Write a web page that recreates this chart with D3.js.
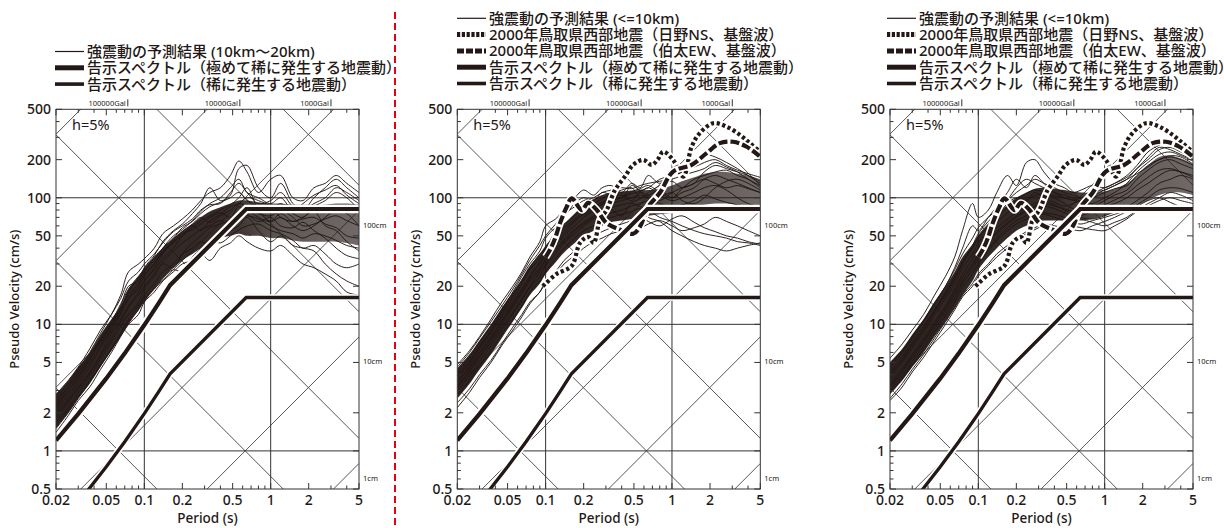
<!DOCTYPE html>
<html>
<head>
<meta charset="utf-8">
<script src="https://cdn.jsdelivr.net/npm/d3@7"></script>
<style>
  body { margin: 0; background: #fff; }
  text { font-family: "Noto Sans", "Noto Sans CJK JP", sans-serif; fill: #231815; }
</style>
</head>
<body>
<script>
// ---- data ----------------------------------------------------------------
// periods (s) used for all simulated spectra
var periods = [0.02, 0.025, 0.03, 0.037, 0.045, 0.055, 0.065, 0.075, 0.09, 0.1, 0.12, 0.14, 0.17, 0.2, 0.24,
  0.28, 0.33, 0.4, 0.48, 0.56, 0.65, 0.8, 1, 1.2, 1.5, 1.8, 2.2, 2.7, 3.3, 4, 5];

// panel 1 : 10km - 20km, dense core of the bundle and single traces (cm/s)
var farLow  = [1.5, 2.0, 2.6, 3.4, 4.6, 6.2, 8, 10, 13, 15, 19, 23, 28, 32, 36, 40, 44, 48, 50, 52, 50, 50, 48, 48, 46, 45, 45, 45, 45, 44, 42];
var farHigh = [2.8, 3.6, 4.6, 6, 8.3, 11, 14, 19, 24, 28, 34, 40, 48, 55, 62, 70, 78, 84, 90, 95, 95, 92, 90, 90, 88, 88, 88, 88, 90, 90, 88];
var farCurves = [
  [2.6, 3.4, 4.4, 6.0, 8.5, 12, 17, 26, 30, 33, 40, 52, 60, 68, 80, 95, 110, 120, 150, 195, 160, 110, 140, 150, 100, 95, 120, 130, 150, 130, 110],
  [2.2, 3.0, 3.8, 5.2, 7.5, 10, 14, 20, 22, 28, 35, 45, 55, 62, 75, 90, 120, 95, 105, 170, 180, 120, 100, 130, 90, 80, 100, 120, 140, 120, 100],
  [1.8, 2.4, 3.2, 4.2, 5.8, 8.5, 11, 14, 18, 22, 27, 33, 40, 50, 58, 66, 72, 80, 88, 100, 120, 80, 65, 70, 60, 55, 60, 70, 80, 75, 60],
  [1.6, 2.1, 2.7, 3.6, 4.8, 6.5, 8.5, 11, 14, 17, 21, 26, 30, 36, 40, 45, 42, 50, 55, 60, 70, 55, 45, 50, 42, 40, 38, 30, 25, 22, 20],
  [2.0, 2.6, 3.4, 4.6, 6.5, 9, 12, 16, 20, 24, 30, 38, 44, 52, 56, 62, 70, 76, 70, 85, 75, 65, 70, 60, 58, 64, 55, 48, 40, 35, 33],
  [2.4, 3.2, 4.2, 5.6, 7.5, 10, 13, 18, 23, 26, 34, 40, 48, 58, 65, 75, 85, 92, 100, 110, 95, 85, 80, 90, 75, 70, 85, 95, 110, 100, 80],
  [1.4, 1.9, 2.5, 3.2, 4.4, 6, 8, 10, 12, 15, 18, 22, 26, 30, 32, 36, 32, 40, 44, 50, 45, 40, 38, 42, 35, 30, 28, 25, 22, 18, 17],
  [2.8, 3.6, 4.6, 6.4, 9, 12, 16, 22, 26, 30, 36, 44, 54, 60, 68, 80, 88, 90, 110, 130, 110, 90, 95, 110, 85, 80, 90, 100, 120, 110, 95],
  [1.7, 2.2, 2.9, 3.9, 5.3, 7.3, 9.6, 12, 15, 19, 24, 30, 28, 36, 44, 50, 58, 62, 66, 70, 72, 68, 60, 55, 52, 48, 52, 50, 46, 42, 40],
  [2.1, 2.8, 3.6, 4.9, 6.8, 9.4, 12.5, 16, 19, 22, 28, 36, 46, 54, 62, 70, 64, 72, 80, 90, 85, 75, 72, 80, 70, 60, 62, 68, 72, 66, 60],
  [1.9, 2.5, 3.1, 4.1, 5.6, 7.8, 10.5, 13.5, 17, 20, 25, 31, 38, 44, 50, 56, 60, 66, 60, 75, 80, 70, 65, 75, 65, 70, 78, 60, 55, 45, 38],
  [2.3, 3.0, 3.9, 5.3, 7.2, 9.8, 13.5, 17, 21, 25, 30, 37, 45, 50, 60, 55, 66, 74, 85, 90, 100, 95, 85, 70, 65, 68, 70, 62, 58, 50, 48],
  [1.5, 2.0, 2.6, 3.5, 4.7, 6.3, 8.2, 10.5, 13, 16, 19, 23, 27, 26, 34, 40, 46, 44, 50, 56, 60, 62, 55, 52, 46, 40, 42, 36, 30, 28, 30],
  [2.5, 3.2, 4.1, 5.5, 7.8, 10.5, 14.5, 19, 24, 27, 32, 40, 50, 56, 66, 78, 90, 100, 120, 140, 110, 100, 90, 100, 80, 90, 105, 115, 125, 105, 90]
];

// panel 2 : <=10km
var nearALow  = [2.6, 3.4, 4.4, 5.8, 7.8, 10.5, 13.5, 17, 21, 25, 31, 37, 44, 50, 55, 60, 64, 66, 68, 70, 72, 74, 76, 80, 85, 88, 90, 90, 88, 85, 82];
var nearAHigh = [4.5, 5.8, 7.5, 10, 13.5, 18, 23, 29, 36, 42, 52, 62, 75, 88, 98, 105, 110, 112, 114, 115, 115, 118, 125, 135, 145, 155, 160, 160, 155, 150, 140];
var nearACurves = [
  [4.8, 6.2, 8, 11, 15, 20, 26, 34, 45, 60, 68, 80, 100, 115, 105, 120, 125, 110, 130, 120, 150, 130, 160, 180, 200, 220, 210, 190, 170, 150, 130],
  [4.0, 5.2, 6.8, 9, 12.5, 17, 22, 28, 36, 40, 55, 70, 90, 100, 95, 110, 105, 100, 125, 115, 120, 140, 150, 170, 175, 190, 200, 180, 165, 155, 145],
  [3.2, 4.2, 5.5, 7.2, 9.5, 12.5, 16, 20, 26, 30, 40, 45, 55, 62, 70, 75, 80, 72, 90, 85, 80, 70, 65, 60, 55, 52, 50, 48, 45, 44, 42],
  [2.4, 3.1, 4, 5.2, 7, 9.5, 12, 15, 18, 22, 25, 30, 35, 40, 45, 48, 52, 55, 60, 58, 62, 66, 60, 55, 58, 62, 70, 65, 60, 55, 50],
  [3.8, 4.8, 6.4, 8.5, 11.5, 15, 19, 24, 30, 35, 45, 52, 65, 75, 85, 92, 100, 105, 95, 110, 105, 115, 100, 110, 120, 140, 150, 140, 130, 120, 110],
  [3.5, 4.5, 5.9, 7.8, 10.5, 14, 18, 23, 28, 33, 42, 50, 60, 70, 78, 80, 90, 95, 100, 105, 100, 95, 110, 120, 130, 160, 180, 170, 160, 150, 135],
  [4.2, 5.5, 7.2, 9.6, 13, 18, 24, 30, 38, 48, 58, 62, 72, 85, 90, 98, 108, 115, 120, 100, 110, 125, 135, 120, 130, 140, 130, 120, 125, 118, 110],
  [2.8, 3.6, 4.7, 6.2, 8.4, 11, 14, 18, 22, 26, 33, 40, 48, 55, 60, 66, 70, 74, 78, 82, 70, 65, 55, 50, 45, 42, 40, 38, 40, 42, 44],
  [3.0, 3.9, 5.1, 6.8, 9, 12, 15.5, 19.5, 24, 29, 36, 44, 52, 60, 68, 72, 76, 80, 86, 90, 95, 100, 110, 95, 90, 100, 120, 135, 140, 130, 115],
  [3.6, 4.6, 6, 8, 10.8, 14.5, 19, 24, 31, 38, 46, 55, 66, 74, 80, 90, 96, 100, 108, 112, 120, 105, 95, 100, 110, 120, 125, 115, 100, 90, 85],
  [2.2, 2.9, 3.8, 5, 6.8, 9, 11.5, 14.5, 18, 21, 26, 32, 38, 44, 50, 54, 58, 62, 66, 70, 65, 60, 68, 72, 64, 58, 54, 50, 48, 45, 43],
  [4.6, 6, 7.8, 10.5, 14, 19, 25, 32, 42, 50, 62, 74, 85, 95, 100, 110, 115, 120, 118, 125, 130, 135, 140, 150, 160, 170, 190, 175, 160, 140, 125],
  [3.3, 4.3, 5.6, 7.5, 10, 13.5, 17.5, 22, 27, 32, 38, 47, 56, 64, 72, 78, 84, 88, 92, 98, 104, 90, 85, 88, 95, 105, 98, 92, 88, 85, 80],
  [3.9, 5, 6.6, 8.8, 12, 16, 21, 27, 33, 40, 50, 58, 68, 78, 82, 88, 95, 100, 112, 118, 125, 110, 100, 118, 140, 150, 160, 165, 150, 140, 120]
];

// panel 3 : <=10km, second case
var nearBLow  = [2.8, 3.6, 4.6, 6, 8, 10.5, 13.5, 17, 22, 27, 34, 40, 48, 55, 60, 64, 66, 66, 66, 66, 66, 68, 72, 76, 80, 86, 95, 105, 110, 110, 105];
var nearBHigh = [5, 6.4, 8.3, 11, 15, 20, 26, 34, 43, 50, 62, 74, 88, 100, 110, 118, 120, 118, 115, 112, 110, 110, 112, 118, 130, 150, 180, 210, 215, 205, 185];
var nearBCurves = [
  [5.4, 7, 9, 12, 17, 24, 34, 55, 90, 70, 80, 110, 150, 125, 190, 200, 160, 130, 120, 110, 115, 125, 120, 130, 150, 180, 230, 260, 280, 250, 200],
  [4.6, 6, 7.8, 10.5, 14.5, 20, 28, 40, 60, 55, 70, 85, 110, 140, 120, 150, 130, 110, 105, 100, 95, 110, 115, 125, 140, 170, 200, 240, 250, 230, 210],
  [3.5, 4.5, 5.8, 7.8, 10.5, 14, 19, 25, 33, 40, 50, 58, 68, 76, 84, 90, 94, 88, 80, 75, 70, 68, 72, 78, 85, 95, 110, 130, 140, 150, 140],
  [2.6, 3.4, 4.4, 5.8, 7.8, 10.5, 13.5, 17, 21, 25, 30, 36, 42, 48, 54, 58, 62, 60, 58, 56, 55, 60, 65, 70, 78, 85, 95, 100, 92, 85, 80],
  [4.0, 5.2, 6.8, 9, 12.5, 17, 22.5, 30, 40, 48, 60, 70, 84, 96, 108, 115, 110, 100, 90, 82, 80, 85, 95, 105, 115, 140, 165, 190, 200, 185, 170],
  [3.0, 3.9, 5.1, 6.8, 9.2, 12.3, 16, 21, 27, 33, 40, 48, 58, 66, 72, 80, 76, 74, 70, 68, 72, 78, 85, 90, 100, 115, 130, 150, 165, 160, 150],
  [4.3, 5.6, 7.3, 9.7, 13, 18, 24, 31, 41, 50, 62, 72, 90, 100, 95, 110, 100, 92, 86, 90, 95, 100, 110, 118, 125, 150, 180, 200, 210, 200, 180],
  [3.2, 4.2, 5.4, 7.2, 9.8, 13, 17, 22, 29, 35, 44, 52, 62, 70, 78, 84, 86, 82, 76, 72, 68, 64, 60, 64, 70, 80, 90, 100, 110, 105, 95],
  [2.5, 3.2, 4.2, 5.5, 7.4, 10, 13, 16.5, 20, 24, 29, 34, 40, 46, 52, 56, 60, 58, 62, 60, 58, 56, 55, 60, 68, 78, 86, 95, 100, 95, 90],
  [3.8, 5, 6.5, 8.6, 11.8, 16, 21, 28, 36, 44, 55, 64, 76, 88, 96, 104, 108, 104, 100, 96, 92, 90, 100, 110, 130, 160, 190, 220, 230, 215, 195],
  [4.8, 6.2, 8, 10.8, 14.8, 20, 27, 36, 48, 58, 70, 80, 95, 110, 125, 140, 130, 120, 110, 105, 100, 105, 115, 125, 140, 155, 175, 200, 215, 210, 185],
  [3.3, 4.3, 5.6, 7.4, 10, 13.5, 18, 23.5, 30, 36, 45, 54, 64, 72, 80, 86, 90, 86, 82, 78, 76, 80, 88, 96, 108, 125, 145, 165, 170, 160, 145],
  [2.9, 3.7, 4.8, 6.4, 8.7, 11.6, 15, 19.5, 25, 30, 38, 46, 55, 62, 68, 72, 74, 70, 66, 64, 62, 66, 70, 74, 80, 88, 100, 115, 120, 118, 110],
  [4.1, 5.3, 7, 9.3, 12.7, 17.5, 23, 31, 42, 52, 65, 76, 96, 120, 140, 130, 120, 110, 100, 96, 100, 108, 120, 130, 145, 170, 210, 250, 240, 220, 200]
];

// 2000 Tottori-ken Seibu earthquake, bedrock waves
var hinoT   = [0.095, 0.1, 0.122, 0.161, 0.187, 0.217, 0.24, 0.269, 0.304, 0.354, 0.424, 0.493, 0.592, 0.69, 0.77, 0.853, 1.02, 1.23, 1.43, 1.66, 2.12, 2.7, 3.45, 4.14, 5];
var hinoPSV = [20, 21, 25, 29, 44, 49, 44, 67, 80, 115, 147, 182, 199, 182, 200, 231, 199, 147, 253, 324, 388, 365, 314, 270, 230];
var hakutaT   = [0.1, 0.11, 0.119, 0.13, 0.147, 0.161, 0.193, 0.217, 0.254, 0.304, 0.387, 0.493, 0.557, 0.649, 0.8, 1.02, 1.43, 1.88, 2.39, 3.05, 3.9, 4.8, 5];
var hakutaPSV = [34, 40, 48, 63, 85, 99, 80, 91, 80, 63, 56, 52, 59, 85, 109, 161, 182, 225, 270, 277, 253, 218, 210];

// notification spectra (告示スペクトル)
var kokujiT       = [0.02, 0.03, 0.05, 0.07, 0.1, 0.13, 0.16, 0.64, 5];
var kokujiVeryRare = [1.21, 1.96, 3.74, 5.9, 9.87, 14.7, 20.4, 81.5, 81.5];
var kokujiRare     = [0.242, 0.39, 0.75, 1.18, 1.97, 2.94, 4.07, 16.3, 16.3];

// tripartite grid
var dispLines = [0.01, 0.1, 1, 10, 100];          // cm
var accLines  = [1, 10, 100, 1000, 10000, 100000]; // Gal
var galLabels = ["100000Gal", "10000Gal", "1000Gal"];
var galLabelT = [0.074, 0.57, 3.0];
var cmLabels  = ["100cm", "10cm", "1cm"];
var cmLabelV  = [61, 5.1, 0.61];

var xTickLabels = [0.02, 0.05, 0.1, 0.2, 0.5, 1, 2, 5];
var yTickLabels = [0.5, 1, 2, 5, 10, 20, 50, 100, 200, 500];
var xGrid = [0.1, 1];
var yGrid = [1, 10, 100];

var legendFar  = ["強震動の予測結果 (10km〜20km)", "告示スペクトル（極めて稀に発生する地震動）", "告示スペクトル（稀に発生する地震動）"];
var legendNear = ["強震動の予測結果 (<=10km)", "2000年鳥取県西部地震（日野NS、基盤波）", "2000年鳥取県西部地震（伯太EW、基盤波）",
  "告示スペクトル（極めて稀に発生する地震動）", "告示スペクトル（稀に発生する地震動）"];

// ---- drawing ------------------------------------------------------------
var W = 1224, H = 528, INK = "#231815";
var svg = d3.select("body").append("svg").attr("width", W).attr("height", H);

var panels = [
  { left: 56,    low: farLow,   high: farHigh,   curves: farCurves,   tottori: false, legend: legendFar,  lx: 55,  ly: 51.5 },
  { left: 457.3, low: nearALow, high: nearAHigh, curves: nearACurves, tottori: true,  legend: legendNear, lx: 457, ly: 18.3 },
  { left: 890,   low: nearBLow, high: nearBHigh, curves: nearBCurves, tottori: true,  legend: legendNear, lx: 887, ly: 18.3 }
];
var plotW = 303, plotTop = 109.3, plotBottom = 489;

panels.forEach(function(p, pi) {
  var x = d3.scaleLog().domain([0.02, 5]).range([p.left, p.left + plotW]);
  var y = d3.scaleLog().domain([0.5, 500]).range([plotBottom, plotTop]);
  var g = svg.append("g");

  var clipId = "clip" + pi;
  svg.append("clipPath").attr("id", clipId).append("rect")
    .attr("x", p.left).attr("y", plotTop).attr("width", plotW).attr("height", plotBottom - plotTop);
  var plot = g.append("g").attr("clip-path", "url(#" + clipId + ")");

  // diagonal lines: displacement (slope -1) and acceleration (slope +1)
  var tA = 0.02, tB = 5;
  dispLines.forEach(function(sd) {
    plot.append("line")
      .attr("x1", x(tA)).attr("y1", y(2 * Math.PI * sd / tA))
      .attr("x2", x(tB)).attr("y2", y(2 * Math.PI * sd / tB))
      .attr("stroke", "#444").attr("stroke-width", 0.9);
  });
  accLines.forEach(function(a) {
    plot.append("line")
      .attr("x1", x(tA)).attr("y1", y(a * tA / (2 * Math.PI)))
      .attr("x2", x(tB)).attr("y2", y(a * tB / (2 * Math.PI)))
      .attr("stroke", "#444").attr("stroke-width", 0.9);
  });

  // grid lines
  xGrid.forEach(function(t) {
    plot.append("line").attr("x1", x(t)).attr("x2", x(t)).attr("y1", plotTop).attr("y2", plotBottom)
      .attr("stroke", "#333").attr("stroke-width", 1);
  });
  yGrid.forEach(function(v) {
    plot.append("line").attr("x1", p.left).attr("x2", p.left + plotW).attr("y1", y(v)).attr("y2", y(v))
      .attr("stroke", "#333").attr("stroke-width", 1);
  });

  // bundle of simulated spectra
  var gradId = "grad" + pi;
  var grad = svg.append("defs").append("linearGradient").attr("id", gradId)
    .attr("gradientUnits", "userSpaceOnUse")
    .attr("x1", p.left).attr("x2", p.left + plotW).attr("y1", 0).attr("y2", 0);
  grad.append("stop").attr("offset", 0).attr("stop-color", INK).attr("stop-opacity", 0.95);
  grad.append("stop").attr("offset", 0.55).attr("stop-color", INK).attr("stop-opacity", 0.92);
  grad.append("stop").attr("offset", 0.75).attr("stop-color", INK).attr("stop-opacity", 0.72);
  grad.append("stop").attr("offset", 1).attr("stop-color", INK).attr("stop-opacity", 0.65);

  var area = d3.area()
    .x(function(d, i) { return x(periods[i]); })
    .y0(function(d, i) { return y(p.low[i]); })
    .y1(function(d, i) { return y(p.high[i]); })
    .curve(d3.curveCatmullRom);
  plot.append("path").datum(periods).attr("d", area).attr("fill", "url(#" + gradId + ")");

  var line = d3.line()
    .x(function(d, i) { return x(periods[i]); })
    .y(function(d) { return y(d); })
    .curve(d3.curveCatmullRom);
  plot.selectAll("path.sim").data(p.curves).enter().append("path")
    .attr("class", "sim").attr("d", line)
    .attr("fill", "none").attr("stroke", INK).attr("stroke-width", 1).attr("stroke-opacity", 0.95);

  var xyLine = function(ts) {
    return d3.line().x(function(d, i) { return x(ts[i]); }).y(function(d) { return y(d); });
  };

  // Tottori records
  if (p.tottori) {
    [[hinoT, hinoPSV, "3.2,2.6"], [hakutaT, hakutaPSV, "9,3"]].forEach(function(r) {
      var ln = xyLine(r[0]).curve(d3.curveCatmullRom);
      plot.append("path").datum(r[1]).attr("d", ln).attr("fill", "none")
        .attr("stroke", "#fff").attr("stroke-width", 7.5).attr("stroke-linejoin", "round");
      plot.append("path").datum(r[1]).attr("d", ln).attr("fill", "none")
        .attr("stroke", INK).attr("stroke-width", 4.2).attr("stroke-dasharray", r[2]);
    });
  }

  // notification spectra
  [[kokujiVeryRare, 4.2, 8.5], [kokujiRare, 3.3, 6.5]].forEach(function(r) {
    var ln = xyLine(kokujiT);
    plot.append("path").datum(r[0]).attr("d", ln).attr("fill", "none")
      .attr("stroke", "#fff").attr("stroke-width", r[2]);
    plot.append("path").datum(r[0]).attr("d", ln).attr("fill", "none")
      .attr("stroke", INK).attr("stroke-width", r[1]);
  });

  // frame
  g.append("rect").attr("x", p.left).attr("y", plotTop).attr("width", plotW).attr("height", plotBottom - plotTop)
    .attr("fill", "none").attr("stroke", "#333").attr("stroke-width", 1);

  // inward ticks on all sides
  var tickG = g.append("g").attr("stroke", "#333").attr("stroke-width", 1);
  x.ticks().forEach(function(t) {
    var len = xTickLabels.indexOf(t) >= 0 ? 6 : 3.5;
    tickG.append("line").attr("x1", x(t)).attr("x2", x(t)).attr("y1", plotBottom).attr("y2", plotBottom - len);
    tickG.append("line").attr("x1", x(t)).attr("x2", x(t)).attr("y1", plotTop).attr("y2", plotTop + len);
  });
  y.ticks().forEach(function(v) {
    var major = yTickLabels.indexOf(v) >= 0;
    tickG.append("line").attr("x1", p.left).attr("x2", p.left + (major ? 6 : 3.5)).attr("y1", y(v)).attr("y2", y(v));
    if (major) tickG.append("line").attr("x1", p.left + plotW).attr("x2", p.left + plotW - 6).attr("y1", y(v)).attr("y2", y(v));
  });

  // tick labels
  g.selectAll("text.xt").data(xTickLabels).enter().append("text")
    .attr("x", function(d) { return x(d); }).attr("y", 505)
    .attr("text-anchor", "middle").attr("font-size", 14).attr("font-weight", 500).text(d3.format("~g"));
  g.selectAll("text.yt").data(yTickLabels).enter().append("text")
    .attr("x", p.left - 5).attr("y", function(d) { return y(d) + 5; })
    .attr("text-anchor", "end").attr("font-size", 14).attr("font-weight", 500).text(d3.format("~g"));

  // axis titles
  g.append("text").attr("x", p.left + plotW / 2).attr("y", 523).attr("text-anchor", "middle")
    .attr("font-size", 13.5).attr("font-weight", 500).text("Period (s)");
  g.append("text").attr("transform", "translate(" + (p.left - 37) + "," + ((plotTop + plotBottom) / 2) + ") rotate(-90)")
    .attr("text-anchor", "middle").attr("font-size", 13).attr("font-weight", 500).text("Pseudo Velocity (cm/s)");

  g.append("text").attr("x", p.left + 16).attr("y", plotTop + 21).attr("font-size", 14.5).text("h=5%");

  // gal labels above the frame, cm labels at the right
  galLabels.forEach(function(s, i) {
    g.append("text").attr("x", x(galLabelT[i]) - 2).attr("y", plotTop - 3).attr("text-anchor", "end")
      .attr("font-size", 7.5).text(s);
    g.append("line").attr("x1", x(galLabelT[i])).attr("x2", x(galLabelT[i]))
      .attr("y1", plotTop - 10).attr("y2", plotTop - 3).attr("stroke", "#333");
  });
  cmLabels.forEach(function(s, i) {
    g.append("text").attr("x", p.left + plotW + 4).attr("y", y(cmLabelV[i]) + 3)
      .attr("font-size", 7.5).text(s);
  });

  // legend
  var styles = p.tottori
    ? [{ w: 1.2 }, { w: 5, dash: "3.2,1.6" }, { w: 5, dash: "7,2" }, { w: 5 }, { w: 3.6 }]
    : [{ w: 1.2 }, { w: 5 }, { w: 3.6 }];
  p.legend.forEach(function(s, i) {
    var yy = p.ly + i * 16.3;
    g.append("line").attr("x1", p.lx).attr("x2", p.lx + 29).attr("y1", yy).attr("y2", yy)
      .attr("stroke", INK).attr("stroke-width", styles[i].w)
      .attr("stroke-dasharray", styles[i].dash || null);
    g.append("text").attr("x", p.lx + 32).attr("y", yy + 5.5)
      .attr("font-family", "'Noto Sans CJK JP', sans-serif").attr("font-weight", 500)
      .attr("font-size", 15).text(s);
  });
});

// red separator
svg.append("line").attr("x1", 395).attr("x2", 395).attr("y1", 12).attr("y2", H)
  .attr("stroke", "#e60012").attr("stroke-width", 2).attr("stroke-dasharray", "7,4");
</script>
</body>
</html>
